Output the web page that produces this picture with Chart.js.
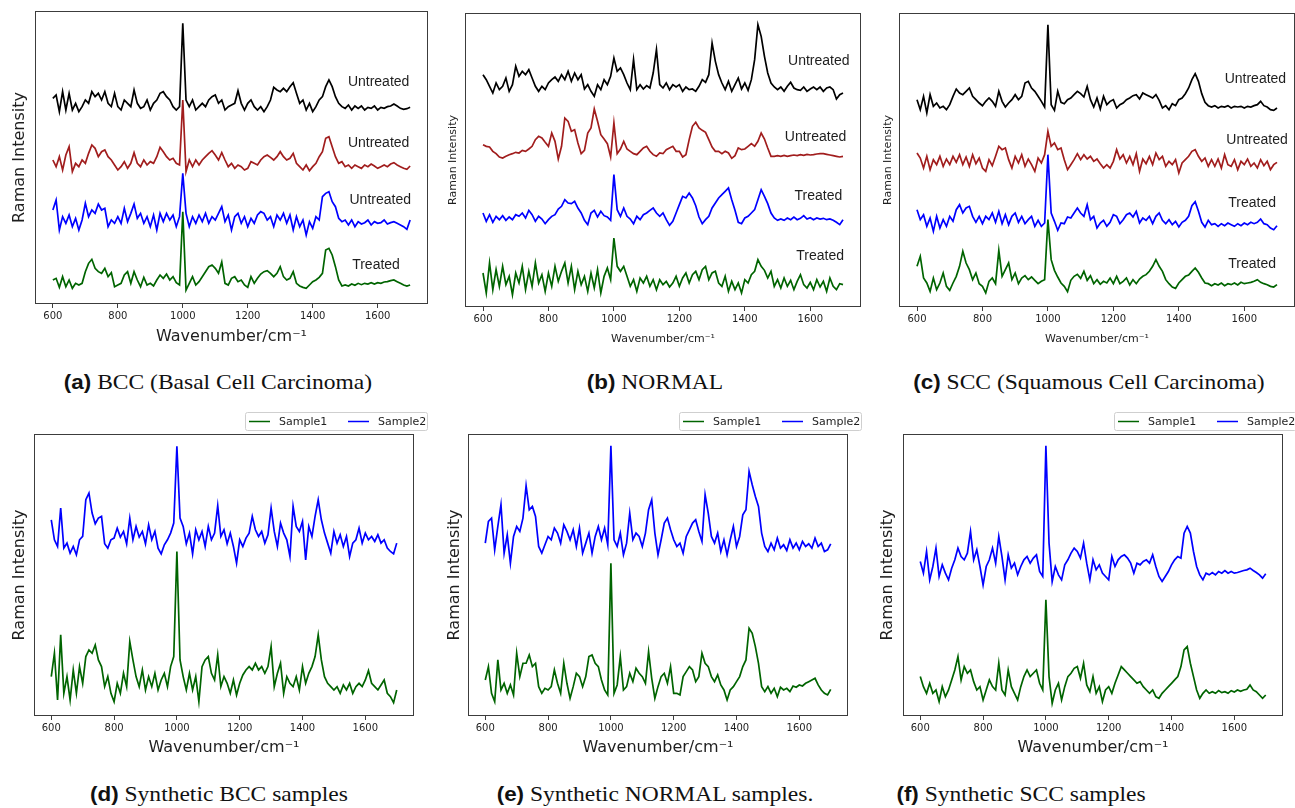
<!DOCTYPE html>
<html>
<head>
<meta charset="utf-8">
<script src="https://cdn.jsdelivr.net/npm/chart.js@4.4.1/dist/chart.umd.min.js"></script>
<style>
  html, body { margin: 0; padding: 0; background: #fff; }
  #page { position: relative; width: 1295px; height: 808px; overflow: hidden; }
  canvas { position: absolute; }
  .cap { position: absolute; white-space: nowrap; transform: translate(-50%, -50%) scaleX(1.12);
         font-family: "Liberation Serif", serif; font-size: 21px; color: #111; }
  .cap b { font-family: "Liberation Sans", Arial, sans-serif; font-size: 20px; }
</style>
</head>
<body>
<div id="page">
  <div class="cap" style="left:218px;top:382px"><b>(a)</b> BCC (Basal Cell Carcinoma)</div>
  <div class="cap" style="left:655px;top:382px"><b>(b)</b> NORMAL</div>
  <div class="cap" style="left:1089px;top:382px"><b>(c)</b> SCC (Squamous Cell Carcinoma)</div>
  <div class="cap" style="left:219px;top:794px"><b>(d)</b> Synthetic BCC samples</div>
  <div class="cap" style="left:655px;top:794px"><b>(e)</b> Synthetic NORMAL samples.</div>
  <div class="cap" style="left:1021px;top:794px"><b>(f)</b> Synthetic SCC samples</div>
</div>
<script>
// Raman spectra, every 10 cm^-1 (600..1700), values relative to each trace's baseline
const wavenumbers = Array.from({ length: 111 }, (_, i) => 600 + 10 * i);
const xTicks = [600, 800, 1000, 1200, 1400, 1600];

// (a) BCC
const bccUntreated1 = [
  2.5,3.5,-1.5,4.5,-1.0,4.0,-1.0,1.0,-1.5,0,
  2.0,1.0,4.5,3.0,4.0,2.0,4.5,1.0,0,4.0,
  0,-1.0,2.0,1.0,0,5.0,1.0,-0.5,0,2.0,
  -1.0,1.0,2.0,4.0,4.5,3.0,2.0,0,-1.0,0,
  25.0,2.0,0,2.0,-1.0,0,1.0,0,2.0,3.0,
  3.5,1.0,2.0,-1.0,0,0.5,1.0,4.8,1.0,-1.0,
  1.0,2.0,0,-1.0,0,-1.5,0,2.0,5.8,5.0,
  4.5,5.5,4.5,6.0,7.2,4.0,1.0,2.0,-1.0,1.0,
  -1.5,0,2.0,3.0,6.0,8.0,6.0,3.0,1.0,0,
  -0.5,0.5,-1.0,0.2,-0.5,0.2,-1.0,-0.2,-0.5,0.2,
  -1.0,-0.2,-0.5,0,0.2,0.8,0.2,-0.5,-0.8,-0.6,
  -0.2];
const bccUntreated2 = [
  1.0,-1.0,2.0,-2.0,2.5,5.0,-2.5,0,-1.0,1.0,
  0,3.0,5.5,4.5,2.0,3.5,4.0,2.0,1.0,-0.5,
  -2.0,-1.0,0.5,-1.5,0,3.2,0,-1.0,1.0,-0.5,
  0.5,0,2.0,4.8,3.5,2.0,1.0,1.5,0,-0.5,
  19.0,-2.5,1.0,-1.0,1.0,-0.5,1.0,2.0,3.0,3.8,
  2.5,1.0,3.2,1.0,-1.0,0,-1.5,-0.5,-1.0,-2.0,
  -1.5,0.5,0,-0.5,1.0,2.0,2.5,1.8,1.0,2.0,
  3.5,2.0,1.0,1.5,3.0,0,-1.0,-2.0,-0.5,-2.2,
  -1.0,0,2.0,3.5,7.5,8.0,5.0,2.0,0,0.5,
  -1.0,-0.5,-1.5,-0.5,-1.0,-1.5,-0.5,-1.0,-0.2,-0.8,
  -1.5,-1.0,-0.5,-1.0,-0.2,0.2,-0.5,-1.0,-1.5,-1.8,
  -0.8];
const bccUntreated3 = [
  3.0,6.0,-3.0,1.0,-1.0,1.5,-2.0,0.5,-3.0,0,
  5.0,1.0,3.0,2.0,4.8,3.0,3.5,-2.0,0,-1.0,
  1.0,-1.0,3.5,-0.5,2.0,4.8,0.5,2.0,-1.0,1.0,
  -2.0,1.5,-3.0,2.0,-0.5,2.0,0,1.5,-2.0,1.0,
  14.0,2.0,-2.0,1.0,-1.0,1.5,-0.5,2.0,-1.0,1.0,
  0,2.0,4.0,-0.5,1.5,-3.0,1.0,2.0,-1.0,1.0,
  -2.0,0.5,-1.0,1.5,2.5,2.0,0,1.0,-2.0,1.5,
  0,2.0,-1.0,1.5,-3.0,1.0,-2.0,0,-4.5,-0.5,
  -2.5,1.0,0,7.0,8.0,8.5,5.5,4.0,0.5,-0.5,
  0,-1.5,0,-2.0,-0.5,-1.2,-0.8,0,-1.5,-0.5,
  -1.0,-0.8,0,-1.2,-0.8,-0.5,-1.0,-1.5,-2.0,-2.8,
  0];
const bccTreated1 = [
  1.0,1.5,-1.2,2.0,-1.0,1.0,-1.5,0,-0.5,0,
  3.5,6.0,7.2,4.5,3.5,3.0,4.5,2.0,3.2,-1.0,
  -0.5,0,2.5,3.5,0,3.5,1.0,-1.0,1.8,-0.5,
  0,-0.8,1.0,2.5,1.5,2.8,1.0,2.0,0.2,-0.5,
  21.5,-2.0,0,2.0,-0.5,0.5,2.0,3.5,5.0,5.5,
  4.5,3.0,6.4,0,-0.5,1.5,2.0,0.5,1.0,-0.5,
  -1.2,2.0,0,1.5,2.8,3.5,3.8,3.0,2.0,3.0,
  5.0,2.0,1.0,1.5,3.5,0,-0.8,-1.2,-1.5,-0.5,
  0.5,1.0,1.8,3.0,10.0,10.5,8.5,5.0,1.0,-0.8,
  -0.5,-0.8,-0.2,-0.6,0,-0.4,0,-0.2,0.2,-0.2,
  0.2,0,0.4,0.5,0.8,1.0,0.5,0,-0.5,-0.8,
  -0.5];
const bccOffsets = [59.2, 42.2, 25.2, 6.2];
const bccLabels = ['Untreated', 'Untreated', 'Untreated', 'Treated'];

// (b) NORMAL
const normalUntreated1 = [
  4.0,2.5,0.5,-1.5,1.5,-0.5,0.5,3.0,-1.0,1.0,
  6.5,3.5,5.0,4.0,5.5,3.0,0.5,-1.0,0.5,-0.5,
  1.5,2.5,3.3,2.0,4.0,2.5,5.0,2.0,4.5,2.5,
  4.0,-0.3,1.0,-1.0,-2.5,1.0,-0.5,2.5,1.0,3.5,
  9.0,5.0,6.0,4.0,1.5,-0.5,8.5,-0.5,1.0,-0.3,
  0.7,0,4.5,11.5,1.0,0,1.5,-0.5,1.0,0.3,
  1.0,-1.0,0.3,-0.5,-0.3,-1.0,0.5,2.5,1.7,4.0,
  13.5,8.0,4.0,1.5,-0.5,2.0,-1.0,1.0,3.0,-0.3,
  1.5,-0.7,2.5,8.5,19.0,15.5,9.5,4.5,1.5,0.3,
  -0.5,0.3,-1.0,0.5,1.7,0,-0.5,-0.7,0.3,-1.0,
  -0.3,0.3,-0.5,0.3,-1.0,0,0.3,-0.5,-3.3,-2.0,
  -1.5];
const normalUntreated2 = [
  3.0,2.5,2.3,1.0,0.3,-0.7,-1.0,-0.5,0,0.3,
  0.7,0.5,1.3,1.0,1.7,2.5,4.5,5.5,5.0,3.7,
  2.5,6.5,4.0,-1.3,2.5,11.0,10.0,7.0,7.5,3.5,
  0.3,1.3,6.5,8.0,13.7,10.0,6.0,4.7,3.3,-0.7,
  9.5,0.3,1.7,4.0,1.7,1.0,0.3,0,1.0,2.0,
  2.5,1.0,0,-0.5,0.5,0.3,1.5,2.0,2.5,1.0,
  1.0,-0.7,0,4.5,8.5,9.7,8.0,7.3,6.7,4.5,
  2.3,1.0,1.0,0.3,1.0,0.5,-1.1,-0.3,2.0,1.5,
  1.7,2.5,3.3,2.5,4.0,6.5,4.7,2.0,-0.5,-0.5,
  -0.3,-0.5,-0.2,-0.5,-0.3,-0.1,-0.3,0,-0.2,0.1,
  -0.1,0,0.2,0.3,0.3,0.1,-0.1,-0.3,-0.5,-0.7,
  -0.5];
const normalTreated1 = [
  1.5,-1.0,1.0,-1.3,0.5,-0.5,0.7,-0.7,0.3,-0.5,
  1.0,0.5,1.5,0,2.3,1.0,-1.0,0.5,-0.3,-1.7,
  -0.5,0.5,1.0,2.7,3.5,5.5,4.5,4.3,5.0,3.0,
  1.5,-0.7,-2.0,1.5,2.3,0.3,2.0,0.7,0.3,-0.7,
  13.0,2.5,0.5,3.0,0.5,-0.3,-1.7,0.5,-0.5,1.0,
  1.5,2.3,3.0,1.5,0.5,1.5,-0.5,-2.2,-1.0,1.5,
  4.0,6.5,6.0,7.5,6.0,3.7,0.3,-1.7,-0.5,0.5,
  3.0,4.5,6.0,7.0,8.0,9.0,5.5,2.3,-1.3,-1.7,
  0,0.5,1.5,2.5,5.5,8.5,6.5,4.3,1.5,0,
  -0.7,-0.3,-0.7,0,-0.5,0.3,-0.5,-0.1,0.7,-0.3,
  0.1,-0.5,0,-0.3,-0.1,-0.5,-0.3,-0.7,-1.3,-2.0,
  -0.5];
const normalTreated2 = [
  2.5,-3.5,5.5,-2.5,3.5,-1.5,4.5,-1.0,1.5,-4.0,
  2.5,-0.5,4.5,-2.5,3.0,-1.5,5.5,-0.5,2.0,-3.0,
  2.5,-1.5,4.5,0,3.0,5.5,-0.5,4.5,-2.5,3.0,
  -1.0,1.5,-3.0,2.5,-2.0,3.5,-3.5,1.5,4.0,0.5,
  13.0,4.5,3.0,4.5,1.5,-1.5,0.5,-3.0,1.0,-0.5,
  1.5,-1.5,0.5,-2.5,0.5,-1.0,0,-1.7,-0.5,1.5,
  -1.5,1.0,2.5,-0.5,2.0,3.0,0.5,3.5,4.5,0.5,
  2.5,3.0,-0.5,-1.5,1.5,-3.0,0,-2.5,-0.5,-3.5,
  0.5,-0.5,2.0,3.0,6.5,4.5,3.3,1.0,3.0,-1.5,
  0.5,-2.0,1.0,-1.5,0.3,-2.5,0,2.0,-1.0,-2.0,
  -0.3,-2.5,0.5,-1.7,0,-3.0,1.0,-1.5,-2.5,-0.7,
  -1.0];
const normalOffsets = [65.7, 45.7, 26.7, 7.7];
const normalLabels = ['Untreated', 'Untreated', 'Treated', 'Treated'];

// (c) SCC
const sccUntreated1 = [
  1.5,-1.5,2.5,-2.5,3.0,-0.5,0.5,-1.0,-0.5,-1.5,
  0,2.5,4.7,3.5,3.0,4.0,5.0,2.5,1.5,0.5,
  -0.3,1.0,2.0,1.0,-0.5,4.0,1.0,-0.7,0.5,1.5,
  3.0,1.5,2.5,6.5,7.0,5.0,4.0,2.5,1.0,-0.7,
  24.0,0,-1.7,4.0,0.7,0.3,1.5,2.0,3.0,4.0,
  3.3,2.3,5.5,1.5,-0.7,2.0,-1.3,2.5,0,1.0,
  1.5,-1.0,0,0.5,1.5,2.0,2.7,3.0,1.7,3.5,
  3.0,2.5,2.0,3.0,1.3,-1.0,-0.3,-1.5,0.3,-0.3,
  1.5,2.0,3.3,5.0,7.5,9.3,7.0,3.3,0.7,-0.3,
  -0.7,-0.3,-1.0,-0.5,-0.7,-0.3,-1.0,-0.5,-0.7,-0.5,
  -1.0,-0.5,-0.7,-0.3,0,1.0,-0.3,-0.7,-1.5,-1.7,
  -1.0];
const sccUntreated2 = [
  3.0,1.5,-1.5,2.0,-2.0,1.0,-0.5,2.0,-1.0,1.2,
  -0.5,2.0,0.2,2.5,-0.5,1.8,-1.0,2.5,-0.2,1.5,
  -1.5,-2.5,1.0,-0.8,2.0,5.0,4.0,4.5,1.0,-1.5,
  2.0,0,2.5,-1.0,1.2,-0.5,-2.5,1.5,0,2.5,
  9.5,5.0,6.0,4.0,4.5,1.0,-2.0,-0.5,1.0,2.8,
  1.0,2.5,1.2,2.0,0.5,1.2,-0.2,-1.5,-0.5,-1.5,
  0.5,4.0,1.2,2.5,0,2.0,-0.5,2.8,-2.5,1.2,
  -0.2,2.0,-0.5,3.0,1.0,2.0,-1.0,0.5,-0.5,1.0,
  -3.0,0,1.0,2.0,3.5,4.0,2.0,0.5,1.5,-1.0,
  1.0,-1.0,1.2,-1.5,2.5,-0.5,-1.0,1.0,-2.0,0.5,
  -0.5,1.2,-1.0,0,-1.5,1.0,-0.8,0.5,-2.0,-0.5,
  0.2];
const sccTreated1 = [
  3.5,0.5,2.0,-1.5,1.0,-3.0,1.5,-2.0,0.5,-1.5,
  1.5,0,3.5,5.0,2.5,4.0,4.5,1.5,-0.3,1.5,
  -0.7,1.5,0.5,2.5,-0.3,3.0,-0.7,2.0,-1.0,1.5,
  2.5,-0.3,1.5,-0.7,0.5,1.5,-1.5,0.3,-1.5,-0.5,
  20.0,2.5,0,-2.7,-0.5,-0.7,1.3,1.0,2.5,4.0,
  2.5,1.5,5.0,0.5,1.5,-2.0,-0.5,0.3,-1.5,-0.3,
  2.0,1.5,-0.7,0.5,2.0,2.5,1.3,3.0,-0.5,1.0,
  0.3,1.5,-0.7,1.5,2.5,0.3,-0.7,0.5,-1.0,0,
  -1.7,-0.3,0.3,1.5,4.7,5.9,3.0,-0.3,-1.7,0.3,
  -1.0,-0.7,-1.5,-0.7,-1.3,-0.5,-1.0,-1.5,-0.7,-1.3,
  -0.5,-1.0,-0.3,-0.7,-0.3,0.7,-0.7,-1.0,-2.0,-2.5,
  -1.3];
const sccTreated2 = [
  4.5,7.5,1.0,-0.5,-3.0,1.0,-2.5,-0.5,2.5,-1.5,
  -2.7,-0.5,1.5,4.5,9.0,5.5,3.5,0.5,2.5,-0.7,
  -1.5,-3.5,0,1.0,-0.7,9.3,1.5,3.5,5.5,0.5,
  2.5,-0.7,1.0,1.7,0.5,1.3,0.3,-0.7,0,0.5,
  18.5,6.5,3.3,1.3,-0.5,-1.5,-3.1,0.3,1.5,2.1,
  0.9,3.0,0.3,1.7,-0.7,0.5,-0.9,0,-0.5,1.0,
  -0.7,1.5,-0.7,0,1.0,-1.1,0.5,-0.7,0.7,1.5,
  2.0,3.0,4.5,6.5,4.5,3.0,0.5,-0.7,-1.7,-2.1,
  -0.5,0.5,1.5,1.9,3.0,4.0,2.7,1.0,-0.5,-0.7,
  -1.3,-0.7,-1.1,-0.5,-1.3,-0.7,-1.0,-0.5,-1.1,-0.3,
  -0.7,-0.5,-0.3,0,0.5,-0.3,-0.7,-1.0,-1.5,-1.7,
  -1.0];
const sccOffsets = [60.7, 43.2, 25.7, 7.7];
const sccLabels = ['Untreated', 'Untreated', 'Treated', 'Treated'];

// (d) synthetic BCC
const synBccSample1 = [
  2.0,9.0,-5.0,14.5,-3.0,2.0,-5.0,4.0,-3.0,5.0,
  0,8.0,10.0,9.0,11.5,7.0,5.0,-1.0,2.0,-3.0,
  -5.5,0,-3.0,3.0,-1.0,12.5,7.0,2.0,-1.0,4.0,
  -2.0,2.0,-1.0,3.0,-2.0,1.0,3.0,-1.0,5.0,8.0,
  39.5,7.0,2.0,-2.0,3.0,-2.0,2.0,-5.5,5.0,7.0,
  8.0,3.0,1.0,8.5,-1.0,2.0,0,-3.0,1.0,-3.5,
  0,2.5,4.0,5.0,4.0,6.0,4.0,5.0,3.0,5.0,
  11.0,-1.0,3.0,6.0,-3.0,2.0,0,-1.0,2.0,-2.0,
  5.0,0,3.0,5.0,8.0,14.5,7.0,2.0,0,-1.0,
  -2.0,-1.0,-3.0,-0.5,-2.0,0,-3.0,-1.0,0,-1.0,
  1.0,3.8,0,-1.0,-2.0,-0.5,1.0,-3.0,-4.0,-5.8,
  -2.0];
const synBccSample2 = [
  6.0,0,-2.0,9.5,-2.5,-1.0,-4.0,-2.0,-4.5,0,
  1.0,12.0,14.0,8.0,4.8,6.5,7.0,-1.2,-2.5,0,
  0.5,3.5,0.8,2.5,-1.2,6.5,0,4.0,0.8,2.5,
  -1.2,4.5,0,2.5,-2.5,-4.2,-1.5,0,2.0,5.0,
  28.0,6.5,4.0,-1.2,2.0,-4.2,3.0,0,2.5,-2.0,
  4.0,0,2.0,10.2,1.0,3.0,-1.2,2.0,-2.0,-7.0,
  0,-2.0,0.5,2.0,7.0,3.0,1.0,2.5,-1.0,1.5,
  9.5,2.5,-2.0,5.0,2.0,0,-5.0,10.0,4.0,2.5,
  5.5,-6.0,4.0,1.0,7.0,12.0,6.0,2.0,-1.0,-4.0,
  2.5,-1.0,1.5,-2.0,1.0,-5.0,-1.0,0,3.5,-1.0,
  2.0,0,1.0,-0.5,1.5,-1.0,0,-2.5,-3.5,-4.2,
  -1.0];
const synBccOffsets = [9.8, 52.8];

// (e) synthetic NORMAL
const synNormalSample1 = [
  3.0,7.0,-1.0,-3.5,9.0,0,2.0,-1.0,1.5,-1.5,
  11.0,4.0,8.0,8.0,10.5,7.0,8.0,1.0,-1.0,0.5,
  0,1.0,6.0,2.0,-1.0,8.0,2.0,-2.5,1.0,5.0,
  4.0,1.0,4.0,10.0,10.5,8.0,7.0,3.0,0,-1.5,
  38.0,-1.0,1.5,10.0,0,1.0,5.0,2.5,6.5,5.0,
  4.0,2.0,11.5,3.5,-2.5,1.0,4.0,5.0,2.0,7.0,
  -1.0,-1.0,-1.5,4.0,5.5,7.0,6.0,2.5,4.0,11.0,
  8.0,7.0,4.0,2.5,4.5,1.5,0,-3.0,0,1.0,
  2.5,4.0,7.0,9.0,18.5,17.0,13.0,8.0,1.0,-0.5,
  1.0,-1.0,0.5,-2.0,0.8,0,0.5,-0.5,1.2,0.8,
  1.5,1.2,2.0,2.5,3.0,3.5,1.5,0,-1.0,-1.5,
  0.2];
const synNormalSample2 = [
  0,6.5,7.5,-2.0,5.0,11.5,-3.0,2.5,-6.0,2.0,
  5.0,3.5,7.5,17.2,10.0,11.0,8.0,-1.0,-3.0,-0.5,
  2.0,1.0,4.5,3.0,0,5.5,3.5,1.0,4.0,-1.0,
  4.5,-3.0,0,3.0,-3.0,2.0,5.0,1.0,4.5,-0.5,
  29.2,1.0,-1.0,3.0,-3.5,0,9.0,1.0,3.0,2.0,
  -1.0,3.0,10.0,13.0,3.0,-3.5,1.0,6.0,7.5,4.0,
  1.0,-1.0,0,-3.0,2.0,4.0,6.0,7.0,3.5,0.5,
  14.5,9.0,2.0,0,3.0,-2.5,1.0,-3.5,1.0,5.0,
  -1.0,2.0,8.5,10.0,21.5,17.5,14.0,11.0,3.0,-1.0,
  -2.5,0,-2.0,1.5,-1.5,-0.5,-2.2,1.0,-1.5,0,
  -2.0,0.5,-1.0,-0.2,-1.5,1.5,-1.0,0,-2.5,-2.0,
  -0.2];
const synNormalOffsets = [7.8, 51.8];

// (f) synthetic SCC
const synSccSample1 = [
  4.0,1.0,-1.0,2.0,-1.0,0,-3.5,1.0,-2.0,0,
  3.0,6.0,10.0,3.0,7.0,5.0,6.0,2.5,0,1.0,
  -3.0,0,3.0,1.0,0,8.0,0,-1.5,6.0,1.0,
  -1.0,-3.0,1.0,4.0,6.0,4.0,5.0,6.0,2.0,0,
  27.0,4.0,-4.0,0,2.0,-3.0,1.0,4.0,5.0,6.5,
  7.0,3.5,8.0,1.5,-0.5,4.0,-1.0,1.0,-3.5,0,
  1.0,-1.0,2.0,4.5,7.0,6.0,5.0,4.0,3.0,2.0,
  2.5,1.0,0,-1.0,0,-2.0,-2.5,-1.0,0,1.0,
  2.0,3.0,4.0,7.0,12.0,13.0,8.0,4.0,0,-2.5,
  -1.0,0,-1.0,-0.5,-1.0,-0.2,-0.8,-0.5,-1.0,-0.2,
  -0.6,0,-0.4,0,0.2,1.5,0,-0.5,-1.5,-2.5,
  -1.5];
const synSccSample2 = [
  2.5,-1.0,5.5,-3.0,1.0,6.5,-2.0,1.5,-1.0,-3.0,
  0.5,3.0,6.5,4.0,3.0,5.0,11.5,3.0,6.0,1.0,
  -4.5,1.0,3.0,6.5,2.0,10.0,4.0,-3.0,4.5,0.5,
  2.0,-1.5,1.0,3.0,4.0,2.0,3.5,4.5,-0.5,-2.0,
  37.2,8.0,-3.5,1.0,-1.5,-3.0,1.5,3.0,5.0,6.5,
  5.5,3.5,8.0,2.0,-3.0,3.0,0,1.5,-1.0,-2.0,
  -3.0,4.0,1.0,3.0,4.0,4.5,3.5,2.0,-1.0,2.0,
  1.5,2.5,3.0,2.0,4.5,1.0,-2.0,-3.5,-2.0,-0.5,
  1.5,3.0,4.0,3.5,11.0,13.0,11.0,5.5,1.0,-1.5,
  -3.0,-1.0,-1.5,-0.8,-1.5,-0.5,-1.0,-0.2,-1.0,-0.5,
  -1.0,-0.8,-0.5,-0.2,0,0.5,-0.2,-0.8,-1.5,-2.5,
  -1.2];
const synSccOffsets = [7.8, 43.8];
const sampleNames = ['Sample1', 'Sample2'];

const BLACK = '#000000', RED = '#a11d1d', BLUE = '#0000ff', GREEN = '#006400';
const TXT = '#1e1e1e';

const panels = [
  { box: [35, 11, 428, 304], yTitleX: 20, yTitleSize: 16, xTitleY: 337, xTitleSize: 16, yMax: 87.9,
    series: [bccUntreated1, bccUntreated2, bccUntreated3, bccTreated1], offsets: bccOffsets,
    colors: [BLACK, RED, BLUE, GREEN], names: bccLabels,
    labelAt: [[1603, 66.7], [1603, 48.4], [1608, 31.1], [1595, 11.7]] },
  { box: [465, 13, 861, 307], yTitleX: 453, yTitleSize: 11, xTitleY: 339, xTitleSize: 11, yMax: 88.2,
    series: [normalUntreated1, normalUntreated2, normalTreated1, normalTreated2], offsets: normalOffsets,
    colors: [BLACK, RED, BLUE, GREEN], names: normalLabels,
    labelAt: [[1626, 73.7], [1616, 50.9], [1625, 33.2], [1630, 15.2]] },
  { box: [899, 13, 1295, 307], yTitleX: 888, yTitleSize: 11, xTitleY: 339, xTitleSize: 11, yMax: 88.2,
    series: [sccUntreated1, sccUntreated2, sccTreated1, sccTreated2], offsets: sccOffsets,
    colors: [BLACK, RED, BLUE, GREEN], names: sccLabels,
    labelAt: [[1634, 68.4], [1639, 50.0], [1624, 31.2], [1624, 12.9]] },
  { box: [34, 434, 414, 716], yTitleX: 20, yTitleSize: 16, xTitleY: 748, xTitleSize: 16, yMax: 84.5,
    series: [synBccSample1, synBccSample2], offsets: synBccOffsets,
    colors: [GREEN, BLUE], names: sampleNames, legend: true },
  { box: [468, 434, 848, 716], yTitleX: 455, yTitleSize: 16, xTitleY: 748, xTitleSize: 16, yMax: 84.5,
    series: [synNormalSample1, synNormalSample2], offsets: synNormalOffsets,
    colors: [GREEN, BLUE], names: sampleNames, legend: true },
  { box: [903, 434, 1283, 716], yTitleX: 888, yTitleSize: 16, xTitleY: 748, xTitleSize: 16, yMax: 84.5,
    series: [synSccSample1, synSccSample2], offsets: synSccOffsets,
    colors: [GREEN, BLUE], names: sampleNames, legend: true }
];

// frame around the plot area, curve labels, and the boxed legend of the lower row
const framePlugin = {
  id: 'frame',
  afterDraw(chart, args, opts) {
    const { ctx, chartArea: a, scales } = chart;
    const p = opts.panel;
    ctx.save();
    ctx.strokeStyle = '#3c3c3c';
    ctx.lineWidth = 1;
    ctx.strokeRect(a.left + 0.5, a.top + 0.5, a.right - a.left - 1, a.bottom - a.top - 1);
    if (p.labelAt) {
      ctx.font = '14px "Liberation Sans", Arial, sans-serif';
      ctx.fillStyle = TXT;
      ctx.textAlign = 'center';
      ctx.textBaseline = 'middle';
      p.names.forEach((n, i) => {
        ctx.fillText(n, scales.x.getPixelForValue(p.labelAt[i][0]), scales.y.getPixelForValue(p.labelAt[i][1]));
      });
    }
    if (p.legend) {
      const w = 182, h = 18, lx = a.right + 13 - w, ly = a.top - 22;
      ctx.fillStyle = '#fff';
      ctx.strokeStyle = '#cfcfcf';
      ctx.beginPath();
      ctx.roundRect(lx + 0.5, ly + 0.5, w, h, 2);
      ctx.fill();
      ctx.stroke();
      ctx.font = '11px "DejaVu Sans", sans-serif';
      ctx.textAlign = 'left';
      ctx.textBaseline = 'middle';
      chart.data.datasets.forEach((ds, i) => {
        const x0 = lx + 4 + i * 99;
        ctx.strokeStyle = ds.borderColor;
        ctx.lineWidth = 1.5;
        ctx.beginPath();
        ctx.moveTo(x0, ly + h / 2 + 0.5);
        ctx.lineTo(x0 + 21, ly + h / 2 + 0.5);
        ctx.stroke();
        ctx.fillStyle = TXT;
        ctx.fillText(ds.label, x0 + 30, ly + h / 2 + 1);
      });
    }
    ctx.restore();
  }
};

const page = document.getElementById('page');

panels.forEach(p => {
  const [L, T, R, B] = p.box;
  const cl = Math.round(p.yTitleX - p.yTitleSize / 2) - 2;
  const ct = T - (p.legend ? 28 : 6);
  const cr = (p.legend ? R + 15 : R) + 6;
  const cb = Math.round(p.xTitleY + p.xTitleSize / 2) + 3;
  const padL = 2, padB = 3;
  const yAxisW = L - cl - padL;
  const xAxisH = (cb - padB) - B;

  const canvas = document.createElement('canvas');
  canvas.width = cr - cl;
  canvas.height = cb - ct;
  canvas.style.left = cl + 'px';
  canvas.style.top = ct + 'px';
  page.appendChild(canvas);

  new Chart(canvas, {
    type: 'line',
    data: {
      datasets: p.series.map((vals, i) => ({
        label: p.names[i],
        data: wavenumbers.map((x, j) => ({ x: x, y: p.offsets[i] + vals[j] })),
        borderColor: p.colors[i],
        borderWidth: 1.7,
        borderJoinStyle: 'miter',
        pointRadius: 0,
        tension: 0,
        fill: false
      }))
    },
    options: {
      responsive: false,
      animation: false,
      devicePixelRatio: 1,
      layout: { padding: { left: padL, top: T - ct, right: cr - R, bottom: padB } },
      plugins: { legend: { display: false }, tooltip: { enabled: false }, frame: { panel: p } },
      scales: {
        x: {
          type: 'linear', min: 545, max: 1755,
          afterBuildTicks: s => { s.ticks = xTicks.map(v => ({ value: v })); },
          afterFit: s => { s.height = xAxisH; },
          ticks: { font: { family: 'DejaVu Sans', size: 10 }, color: TXT, padding: 2, maxRotation: 0,
                   autoSkip: false, callback: v => String(v) },
          grid: { display: true, drawOnChartArea: false, drawTicks: true, tickLength: 4, color: '#3c3c3c' },
          border: { display: false },
          title: { display: true, text: 'Wavenumber/cm⁻¹', color: TXT, padding: 0,
                   font: { family: 'DejaVu Sans', size: p.xTitleSize, lineHeight: 1 } }
        },
        y: {
          min: 0, max: p.yMax,
          afterFit: s => { s.width = yAxisW; },
          ticks: { display: false },
          grid: { display: false },
          border: { display: false },
          title: { display: true, text: 'Raman Intensity', color: TXT, padding: 0,
                   font: { family: 'DejaVu Sans', size: p.yTitleSize, lineHeight: 1 } }
        }
      }
    },
    plugins: [framePlugin]
  });
});
</script>
</body>
</html>
